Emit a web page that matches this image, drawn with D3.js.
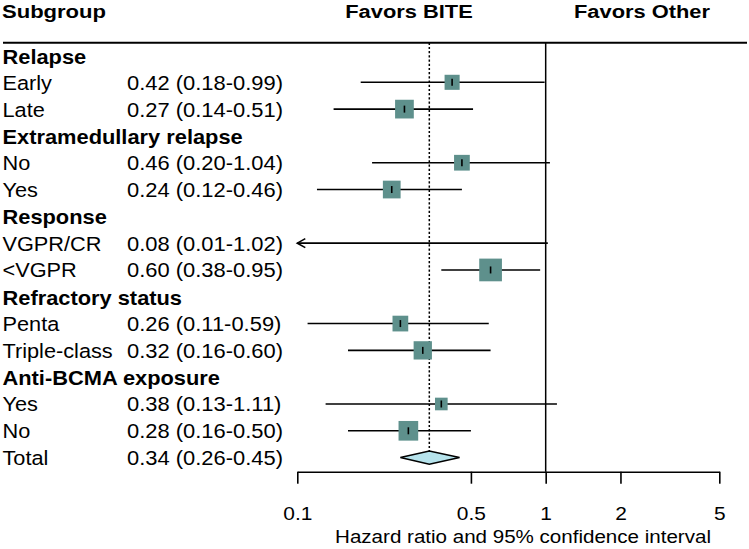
<!DOCTYPE html>
<html>
<head>
<meta charset="utf-8">
<script src="https://cdn.jsdelivr.net/npm/d3@7"></script>
<style>
  html, body { margin: 0; padding: 0; background: #fff; }
  svg { display: block; }
  text { font-family: "Liberation Sans", Arial, sans-serif; fill: #000; }
</style>
</head>
<body>
<svg id="chart" width="749" height="549"></svg>
<script>
// ---- data ----
const rowLabels = ["Relapse", "Early", "Late", "Extramedullary relapse", "No", "Yes",
  "Response", "VGPR/CR", "<VGPR", "Refractory status", "Penta", "Triple-class",
  "Anti-BCMA exposure", "Yes", "No", "Total"];
const rowTypes = ["header", "item", "item", "header", "item", "item",
  "header", "item", "item", "header", "item", "item",
  "header", "item", "item", "total"];
const hazardRatio = [null, 0.42, 0.27, null, 0.46, 0.24, null, 0.08, 0.60, null, 0.26, 0.32, null, 0.38, 0.28, 0.34];
const ciLower     = [null, 0.18, 0.14, null, 0.20, 0.12, null, 0.01, 0.38, null, 0.11, 0.16, null, 0.13, 0.16, 0.26];
const ciUpper     = [null, 0.99, 0.51, null, 1.04, 0.46, null, 1.02, 0.95, null, 0.59, 0.60, null, 1.11, 0.50, 0.45];
const weights     = [null, 4.4, 6.8, null, 4.8, 6.1, null, 0, 10.0, null, 4.8, 6.5, null, 3.1, 7.5, null];
const tickValues = [0.1, 0.5, 1, 2, 5];
const tickLabels = ["0.1", "0.5", "1", "2", "5"];
const headerLeft = "Subgroup";
const headerFavorsA = "Favors BITE";
const headerFavorsB = "Favors Other";
const axisTitle = "Hazard ratio and 95% confidence interval";

// ---- layout ----
const svg = d3.select("#chart");
const x = d3.scaleLog().domain([0.1, 5]).range([297.3, 719.3]);
const y = d3.scaleLinear().domain([0, rowLabels.length - 1]).range([55.5, 457.6]);
const boxSide = d3.scaleSqrt().domain([0, 10]).range([0, 22.7]);
const axisY = 471.7;
const topLine = 42.7;
const boxColor = "#5e908c";
const diamondColor = "#b6e3ec";

function txt(sel, xx, yy, str, size, bold, sx, anchor) {
  return sel.append("text")
    .attr("transform", `translate(${xx},${yy}) scale(${sx},1)`)
    .attr("text-anchor", anchor || "start")
    .style("font-size", size + "px")
    .style("font-weight", bold ? "bold" : "normal")
    .text(str);
}

// header
txt(svg, 2, 17.5, headerLeft, 19, true, 1.16, "start");
txt(svg, 409, 17.5, headerFavorsA, 19, true, 1.15, "middle");
txt(svg, 642, 17.5, headerFavorsB, 19, true, 1.15, "middle");
svg.append("line").attr("x1", 3).attr("x2", 747).attr("y1", topLine).attr("y2", topLine)
  .attr("stroke", "#000").attr("stroke-width", 2);

// reference lines
const totalIdx = rowTypes.indexOf("total");
svg.append("line").attr("x1", x(1)).attr("x2", x(1)).attr("y1", topLine).attr("y2", axisY)
  .attr("stroke", "#000").attr("stroke-width", 1.5);
svg.append("line").attr("x1", x(hazardRatio[totalIdx])).attr("x2", x(hazardRatio[totalIdx]))
  .attr("y1", topLine).attr("y2", y(totalIdx) - 6.7)
  .attr("stroke", "#000").attr("stroke-width", 1.5).attr("stroke-dasharray", "2.2,2");

// rows
const fmt = d3.format(".2f");
rowLabels.forEach((lab, i) => {
  const yy = y(i);
  const t = rowTypes[i];
  if (t === "header") {
    txt(svg, 2.5, yy + 8, lab, 19.5, true, 1.12, "start");
    return;
  }
  txt(svg, 2.5, yy + 7.5, lab, 20.5, false, 1.06, "start");
  txt(svg, 127, yy + 7.5, `${fmt(hazardRatio[i])} (${fmt(ciLower[i])}-${fmt(ciUpper[i])})`, 20.5, false, 1.07, "start");
  if (t === "total") {
    const pts = [[x(ciLower[i]), yy], [x(hazardRatio[i]), yy - 6.7], [x(ciUpper[i]), yy], [x(hazardRatio[i]), yy + 6.7]];
    svg.append("path").attr("d", "M" + pts.map(p => p.join(",")).join("L") + "Z")
      .attr("fill", diamondColor).attr("stroke", "#000").attr("stroke-width", 1.5);
    return;
  }
  const lo = Math.max(ciLower[i], x.domain()[0]);
  const hi = Math.min(ciUpper[i], x.domain()[1]);
  svg.append("line").attr("x1", x(lo)).attr("x2", x(hi)).attr("y1", yy).attr("y2", yy)
    .attr("stroke", "#000").attr("stroke-width", 1.6);
  if (ciLower[i] < x.domain()[0]) {
    const ax = x(lo);
    svg.append("path").attr("d", `M${ax + 8},${yy - 4.5}L${ax},${yy}L${ax + 8},${yy + 4.5}`)
      .attr("fill", "none").attr("stroke", "#000").attr("stroke-width", 1.6);
  }
  if (hazardRatio[i] >= x.domain()[0]) {
    const s = boxSide(weights[i]);
    const cx = x(hazardRatio[i]);
    svg.append("rect").attr("x", cx - s / 2).attr("y", yy - s / 2).attr("width", s).attr("height", s)
      .attr("fill", boxColor);
    svg.append("line").attr("x1", cx).attr("x2", cx).attr("y1", yy - 3.5).attr("y2", yy + 3.5)
      .attr("stroke", "#000").attr("stroke-width", 1.6);
  }
});

// axis
const axis = d3.axisBottom(x).tickValues(tickValues)
  .tickFormat((d, i) => tickLabels[i]).tickSizeInner(12).tickSizeOuter(0);
const ag = svg.append("g").attr("transform", `translate(0,${axisY})`).call(axis);
ag.select(".domain").attr("stroke", "#000").attr("stroke-width", 1.6);
ag.selectAll(".tick line").attr("stroke", "#000").attr("stroke-width", 1.6);
ag.selectAll(".tick text")
  .attr("y", null).attr("dy", null)
  .attr("transform", `translate(0,${520 - axisY}) scale(1.12,1)`)
  .attr("fill", "#000")
  .style("font-size", "18.7px")
  .style("font-family", '"Liberation Sans", Arial, sans-serif');
ag.attr("font-size", null).attr("font-family", null);

txt(svg, 523, 543, axisTitle, 18.7, false, 1.1, "middle");
</script>
</body>
</html>
